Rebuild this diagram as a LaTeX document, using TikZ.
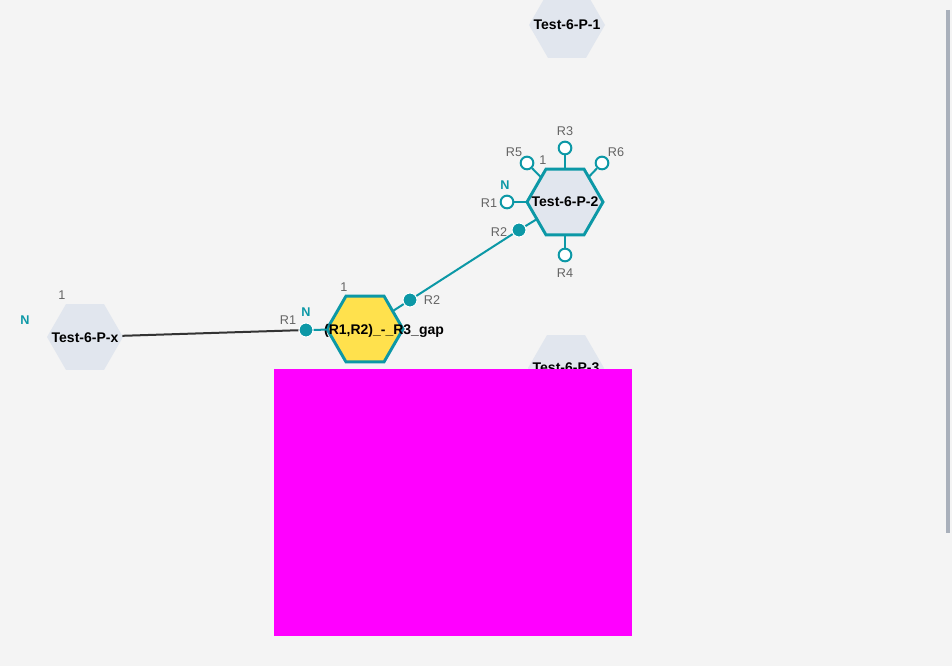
\documentclass[tikz,border=0pt]{standalone}
\usepackage{fontspec}
\setmainfont{Liberation Sans}
\usetikzlibrary{shapes.geometric}
\definecolor{bgcol}{RGB}{244,244,244}
\definecolor{hexfill}{RGB}{225,230,238}
\definecolor{monoteal}{RGB}{12,152,166}
\definecolor{hexyellow}{RGB}{255,225,77}
\definecolor{labgray}{RGB}{100,100,100}
\definecolor{linkdark}{RGB}{51,51,51}
\definecolor{bargray}{RGB}{169,176,187}
\definecolor{maskpink}{RGB}{255,0,255}
\begin{document}
\begin{tikzpicture}[x=0.75pt,y=-0.75pt]
        \tikzstyle{every node}=[font=\fontsize{9.5}{11}\selectfont]
        \tikzstyle{hexa}=[regular polygon, regular polygon sides=6, minimum size=57pt, inner sep=0pt, outer sep=0pt, fill=hexfill]
        \tikzstyle{hexsel}=[hexa, draw=monoteal, line width=2.2pt]
        \tikzstyle{hextitle}=[font=\bfseries\fontsize{10.5}{12}\selectfont, inner sep=0pt]
        \tikzstyle{rport}=[circle, draw=monoteal, fill=white, line width=1.5pt, minimum size=9.5pt, inner sep=0pt]
        \tikzstyle{rlink}=[circle, fill=monoteal, draw=white, line width=0.8pt, minimum size=10.5pt, inner sep=0pt]
        \tikzstyle{rname}=[text=labgray, inner sep=0pt]
        \tikzstyle{nterm}=[text=monoteal, font=\bfseries\fontsize{9.5}{11}\selectfont, inner sep=0pt]
        \tikzstyle{stub}=[draw=monoteal, line width=1.5pt]

        % canvas
        \fill[bgcol] (0,0) rectangle (952,666);
        \useasboundingbox (0,0) rectangle (952,666);

        % monomers
        \node[hexa] (px) at (85,337) {};
        \node[hexa] (p1) at (567,25) {};
        \node[hexa] (p3) at (566,368) {};
        \node[hexsel] (p2) at (565,202) {};
        \node[hexsel, fill=hexyellow] (gap) at (365,329) {};

        \node[hextitle] (pxtext) at (85,338) {Test-6-P-x};
        \node[hextitle] (p1text) at (567,25) {Test-6-P-1};
        \node[hextitle] (p3text) at (566,368) {Test-6-P-3};
        \node[hextitle] (p2text) at (565,202) {Test-6-P-2};
        \node[hextitle] (gaptext) at (384,331) {(R1,R2)\_-\_R3\_gap};

        % attachment points of Test-6-P-2
        \node[rport] (p2r3) at (565,148) {};
        \node[rport] (p2r5) at (527,163) {};
        \node[rport] (p2r6) at (602,163) {};
        \node[rport] (p2r1) at (507,202) {};
        \node[rport] (p2r4) at (565,255) {};
        \node[rlink] (p2r2) at (519,230) {};

        \draw[stub] (p2r3) -- (p2);
        \draw[stub] (p2r5) -- (p2);
        \draw[stub] (p2r6) -- (p2);
        \draw[stub] (p2r1) -- (p2);
        \draw[stub] (p2r4) -- (p2);
        \draw[stub] (p2r2) -- (p2);

        % attachment points of the gap monomer
        \node[rlink] (gapr1) at (306,330) {};
        \node[rlink] (gapr2) at (410,300) {};
        \draw[stub] (gapr1) -- (gap);
        \draw[stub] (gapr2) -- (gap);

        % bonds
        \draw[linkdark, line width=1.5pt] (px) -- (gapr1);
        \draw[stub] (gapr2) -- (p2r2);

        % labels
        \node[rname] (p2one) at (543,160) {1};
        \node[rname] (p2l5) at (514,152) {R5};
        \node[rname] (p2l3) at (565,131) {R3};
        \node[rname] (p2l6) at (616,152) {R6};
        \node[nterm] (p2n) at (505,185) {N};
        \node[rname] (p2l1) at (489,203) {R1};
        \node[rname] (p2l2) at (499,232) {R2};
        \node[rname] (p2l4) at (565,273) {R4};

        \node[rname] (gapone) at (344,287) {1};
        \node[nterm] (gapn) at (306,312) {N};
        \node[rname] (gapl1) at (288,320) {R1};
        \node[rname] (gapl2) at (432,300) {R2};

        \node[rname] (pxone) at (62,295) {1};
        \node[nterm] (pxn) at (25,320) {N};

        % masked area and scrollbar
        \fill[maskpink] (274,369) rectangle (632,636);
        \draw[bargray, line width=3pt] (948,10) -- (948,533);
\end{tikzpicture}
\end{document}
